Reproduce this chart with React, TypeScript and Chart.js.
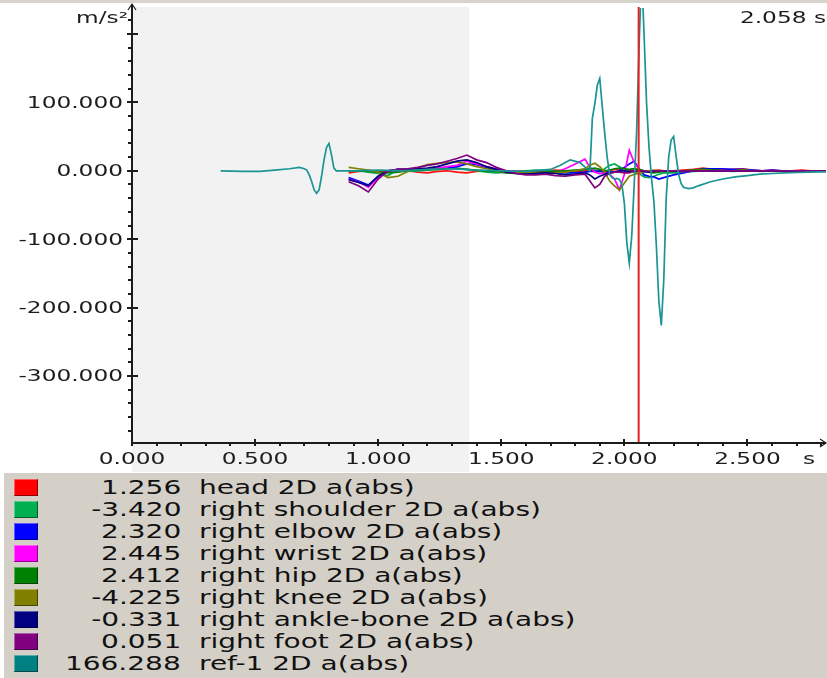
import React, { useEffect, useRef } from 'react';
import { Chart, registerables } from 'chart.js';

Chart.register(...registerables);

// ---------- axis / layout values ----------
const X_MIN = 0;
const X_MAX = 2.819;
const Y_MIN = -398;
const Y_MAX = 238;
const SHADE_END = 1.37;
const CURSOR_T = 2.058;
const CURSOR_LABEL = '2.058 s';
const Y_UNIT = 'm/s²';
const X_UNIT = 's';
const X_TICKS = [0, 0.5, 1.0, 1.5, 2.0, 2.5];
const X_TICK_LABELS = ['0.000', '0.500', '1.000', '1.500', '2.000', '2.500'];
const Y_TICKS = [200, 100, 0, -100, -200, -300];
const Y_TICK_LABELS = ['', '100.000', '0.000', '-100.000', '-200.000', '-300.000'];

// ---------- legend ----------
const SERIES_NAMES = [
  'head 2D a(abs)',
  'right shoulder 2D a(abs)',
  'right elbow 2D a(abs)',
  'right wrist 2D a(abs)',
  'right hip 2D a(abs)',
  'right knee 2D a(abs)',
  'right ankle-bone 2D a(abs)',
  'right foot 2D a(abs)',
  'ref-1 2D a(abs)',
];
const SERIES_COLORS = ['#ff0000', '#00b050', '#0000ff', '#ff00ff', '#008000', '#808000', '#000080', '#800080', '#008080'];
const LINE_COLORS = ['#ff1010', '#00b050', '#0000ff', '#ff00ff', '#008000', '#808000', '#000080', '#800080', '#1a9494'];
const CURSOR_VALUES = ['1.256', '-3.420', '2.320', '2.445', '2.412', '-4.225', '-0.331', '0.051', '166.288'];

// ---------- data ----------
const SMALL_T = [
  0.88, 0.92, 0.96, 1.00, 1.04, 1.08, 1.12, 1.16, 1.20, 1.24, 1.28, 1.32, 1.36, 1.40, 1.44, 1.48, 1.52, 1.56, 1.60, 1.64, 1.68, 1.72, 1.76, 1.80, 1.84,
  1.86, 1.88, 1.90, 1.92, 1.94, 1.96, 1.98, 2.00, 2.02, 2.04, 2.06, 2.08, 2.10, 2.12, 2.14, 2.16,
  2.20, 2.24, 2.28, 2.32, 2.36, 2.40, 2.44, 2.48, 2.52, 2.56, 2.60, 2.64, 2.68, 2.72, 2.76, 2.80, 2.84,
];
const HEAD = [
  -3, -1, 0, -1, -2, -1, 0, -2, -3, -1, 0, -2, -3, -1, 0, 1, 0, -1, 0, -1, 0, 1, 0, -1, 0,
  0, 1, 0, -1, 0, 2, 1, 0, 1, 1, 1, 0, -1, 0, 1, 0,
  0, 1, 2, 4, 2, 1, 2, 3, 1, 0, 1, 0, 0, 1, 0, 0, 0,
];
const SHOULDER = [
  0, 0, -2, -4, -7, 2, -1, 0, 1, 2, 3, 4, 2, 0, -2, -3, -2, -1, 0, 1, 0, -1, -2, 0, 2,
  4, 1, -2, 3, 8, 10, 6, 2, -1, -2, -4, -9, -10, -8, -5, -3,
  -3, -2, -1, 0, 1, 0, -1, 0, 0, -1, 0, 0, 0, 0, 0, 0, 0,
];
const ELBOW = [
  -10, -15, -21, -8, -1, 2, 1, 2, 3, 3, 4, 6, 10, 9, 5, 1, -2, -3, -2, -1, -2, -3, -3, -3, -2,
  -1, -1, 0, -3, -2, -2, 0, 5, 10, 14, 3, -6, -8, -9, -12, -10,
  -6, -3, 0, 3, 3, 3, 2, 2, 1, 0, 1, 0, 0, 0, 0, 0, 0,
];
const WRIST = [
  -12, -16, -24, -10, 0, 1, 2, 2, 3, 4, 6, 8, 14, 10, 6, 3, 0, -1, -2, -1, -2, -2, 3, 10, 17,
  5, -2, -4, -3, -5, -12, -28, -5, 30, 12, 2, -1, -2, -1, 0, 0,
  0, -1, 0, 1, 0, 0, 0, 0, 0, 0, 0, 0, 0, 0, 0, 0, 0,
];
const HIP = [
  0, 0, -1, -2, -3, -2, 0, 1, 2, 2, 3, 3, 2, 1, 0, -1, -3, -4, -3, -2, -2, -1, 0, 1, 2,
  3, 4, 2, 0, 1, 3, 4, 3, 2, 3, 2, 0, -2, -3, -2, -1,
  -1, 0, 1, 2, 1, 0, 0, 1, 0, 0, 0, 0, 0, 0, 0, 0, 0,
];
const KNEE = [
  5, 3, 1, -2, -10, -8, -1, 4, 9, 11, 12, 13, 10, 6, 3, 0, -2, -3, -2, -3, -4, -3, -2, 0, 3,
  8, 11, 6, -2, -15, -22, -28, -18, -8, -5, -4, -2, 0, 1, 0, 0,
  0, -1, 0, 1, 0, 0, 0, 1, 0, 0, 0, 0, 0, 0, 0, 0, 0,
];
const ANKLE = [
  -13, -17, -22, -8, 0, 2, 2, 3, 4, 6, 10, 14, 16, 12, 6, 2, -2, -4, -5, -4, -3, -4, -6, -5, -3,
  -6, -12, -8, -5, -3, -2, -1, 0, -1, -1, 0, -1, -2, -1, 0, 0,
  0, 0, 0, 0, 0, 0, 0, 0, 0, 0, 0, 0, 0, 0, 0, 0, 0,
];
const FOOT = [
  -16, -22, -31, -12, 0, 2, 3, 5, 8, 10, 14, 18, 23, 16, 12, 5, 0, -4, -6, -6, -5, -7, -8, -6, -5,
  -15, -25, -20, -8, -4, -2, -2, -3, -3, 0, 0, 0, -1, 0, 0, 0,
  0, 0, 0, 0, 0, 0, 0, 0, 0, 0, 0, 0, 0, 0, 0, 0, 0,
];
const REF_T = [
  0.36, 0.45, 0.52, 0.58, 0.64, 0.68,
  0.70, 0.71, 0.72, 0.73, 0.74, 0.75, 0.76, 0.77, 0.78, 0.79, 0.80, 0.81, 0.82, 0.83,
  0.90, 1.00, 1.10, 1.20, 1.30, 1.40, 1.50, 1.60, 1.70,
  1.74, 1.78, 1.82, 1.85,
  1.86, 1.87, 1.88, 1.89, 1.90, 1.91, 1.92, 1.93, 1.94, 1.95, 1.96, 1.97, 1.98, 1.99,
  2.00, 2.01, 2.02, 2.03, 2.04, 2.05, 2.06, 2.07, 2.08, 2.09, 2.10, 2.11, 2.12, 2.13,
  2.14, 2.15, 2.16, 2.17, 2.18, 2.19, 2.20, 2.21, 2.22, 2.23, 2.24,
  2.26, 2.28, 2.30,
  2.35, 2.40, 2.45, 2.50, 2.55, 2.60, 2.65, 2.70, 2.75, 2.80, 2.85,
];
const REF1 = [
  0, -1, -1, 1, 3, 5,
  3, 1, -6, -16, -28, -33, -28, -8, 16, 34, 40, 24, 4, 0,
  0, 1, 0, 2, 3, 1, 0, -1, 2,
  8, 16, 12, 2,
  0, 77, 98, 125, 135, 95, 55, 20, -5, -10, -12, -11, -13, -20,
  -48, -105, -135, -95, -20, 60, 185, 290, 200, 100, 35, -10, -45, -110,
  -190, -226, -160, -40, 20, 45, 50, 22, -5, -18, -24,
  -26, -25, -22,
  -16, -12, -9, -7, -5, -4, -3, -2.5, -2, -1.5, -1.5,
];

const SERIES_T = [SMALL_T, SMALL_T, SMALL_T, SMALL_T, SMALL_T, SMALL_T, SMALL_T, SMALL_T, REF_T];
const SERIES_V = [HEAD, SHOULDER, ELBOW, WRIST, HIP, KNEE, ANKLE, FOOT, REF1];

// ---------- geometry ----------
const W = 827;
const H = 678;
const CH = 472;
const FONT = '"DejaVu Sans", Verdana, sans-serif';
const AX_SIZE = 15;
const AX_SX = 1.55;
const LG_SIZE = 20;
const LG_SX = 1.4;

function drawText(ctx: CanvasRenderingContext2D, s: string, x: number, y: number, align: CanvasTextAlign, size: number, sx: number, color: string) {
  ctx.save();
  ctx.translate(x, y);
  ctx.scale(sx, 1);
  ctx.font = `${size}px ${FONT}`;
  ctx.fillStyle = color;
  ctx.textAlign = align;
  ctx.textBaseline = 'alphabetic';
  ctx.fillText(s, 0, 0);
  ctx.restore();
}

const decorPlugin = {
  id: 'decor',
  beforeDatasetsDraw(chart: any) {
    const { ctx, scales } = chart;
    const x = scales.x;
    ctx.save();
    ctx.fillStyle = '#d6d3cc';
    ctx.fillRect(0, 0, W, 3);
    const x0 = x.getPixelForValue(X_MIN);
    const x1 = x.getPixelForValue(SHADE_END);
    ctx.fillStyle = '#f2f2f2';
    ctx.fillRect(x0, 7, x1 - x0, CH - 7);
    ctx.restore();
  },
  afterDatasetsDraw(chart: any) {
    const { ctx, chartArea: a } = chart;
    const x = chart.scales.x;
    const y = chart.scales.y;
    ctx.save();
    // cursor
    const cx = x.getPixelForValue(CURSOR_T);
    ctx.strokeStyle = '#e02424';
    ctx.lineWidth = 2;
    ctx.beginPath();
    ctx.moveTo(cx, 7);
    ctx.lineTo(cx, a.bottom);
    ctx.stroke();

    const ox = Math.round(x.getPixelForValue(0));
    const oy = Math.round(a.bottom);
    const col = '#1c1c1c';
    ctx.fillStyle = col;
    // axis lines
    ctx.fillRect(ox - 1, 5, 2, oy - 4);
    ctx.fillRect(ox - 1, oy - 1, a.right - ox + 1, 2);
    // arrows
    ctx.strokeStyle = col;
    ctx.lineWidth = 1.2;
    ctx.beginPath();
    ctx.moveTo(ox - 4, 10);
    ctx.lineTo(ox, 4);
    ctx.lineTo(ox + 4, 10);
    ctx.moveTo(a.right - 6, oy - 4);
    ctx.lineTo(a.right, oy);
    ctx.lineTo(a.right - 6, oy + 4);
    ctx.stroke();

    // y ticks
    for (let v = -380; v <= 220; v += 20) {
      const py = Math.round(y.getPixelForValue(v));
      if (v % 100 === 0) ctx.fillRect(ox - 5, py - 1, 11, 2);
      else ctx.fillRect(ox - 4, py - 1, 4, 2);
    }
    // x ticks
    for (let i = 0; i <= 28; i++) {
      const px = Math.round(x.getPixelForValue(i / 10));
      if (i % 5 === 0) ctx.fillRect(px - 1, oy - 4, 2, 7);
      else ctx.fillRect(px - 1, oy + 1, 2, 2);
    }
    // labels
    Y_TICKS.forEach((v, i) => {
      const lbl = Y_TICK_LABELS[i];
      if (!lbl) return;
      const py = y.getPixelForValue(v);
      drawText(ctx, lbl, ox - 9, py + 5.5, 'right', AX_SIZE, AX_SX, col);
    });
    X_TICKS.forEach((v, i) => {
      const px = x.getPixelForValue(v);
      drawText(ctx, X_TICK_LABELS[i], px, 464, 'center', AX_SIZE, AX_SX, col);
    });
    drawText(ctx, X_UNIT, 809, 464, 'center', AX_SIZE, AX_SX, col);
    drawText(ctx, Y_UNIT, 128, 23, 'right', AX_SIZE, AX_SX, col);
    drawText(ctx, CURSOR_LABEL, 826, 23, 'right', AX_SIZE, AX_SX, col);
    ctx.restore();
  },
};

export default function App() {
  const ref = useRef<HTMLCanvasElement | null>(null);

  useEffect(() => {
    document.body.style.margin = '0';
    const canvas = ref.current;
    if (!canvas) return;
    const n = SERIES_NAMES.length;
    const datasets = SERIES_NAMES.map((name, i) => ({
      label: name,
      data: SERIES_T[i].map((t, k) => ({ x: t, y: SERIES_V[i][k] })),
      borderColor: LINE_COLORS[i],
      backgroundColor: LINE_COLORS[i],
      borderWidth: 1.7,
      pointRadius: 0,
      tension: 0,
      fill: false,
      order: n - 1 - i,
    }));
    const chart = new Chart(canvas, {
      type: 'line',
      data: { datasets },
      options: {
        animation: false,
        responsive: false,
        maintainAspectRatio: false,
        devicePixelRatio: 1,
        layout: { padding: { left: 132, right: 1, top: 8, bottom: CH - 443 } },
        scales: {
          x: { type: 'linear', min: X_MIN, max: X_MAX, display: false },
          y: { type: 'linear', min: Y_MIN, max: Y_MAX, display: false },
        },
        plugins: { legend: { display: false }, tooltip: { enabled: false } },
        events: [],
      },
      plugins: [decorPlugin],
    });
    return () => chart.destroy();
  }, []);

  const txtStyle: React.CSSProperties = {
    position: 'absolute',
    top: 0,
    height: 22,
    lineHeight: '22px',
    fontSize: LG_SIZE,
    fontFamily: FONT,
    whiteSpace: 'nowrap',
    color: '#111',
  };

  return (
    <div style={{ position: 'relative', width: W, height: H, background: '#fff', overflow: 'hidden' }}>
      <canvas ref={ref} width={W} height={CH} style={{ display: 'block', width: W, height: CH }} />
      <div style={{ position: 'absolute', left: 4, top: 473, width: W - 4, height: H - 473, background: '#d4d0c8' }}>
        {SERIES_NAMES.map((name, i) => (
          <div key={name} style={{ position: 'absolute', left: -4, top: 3 + 22 * i, width: W, height: 22 }}>
            <div
              style={{
                position: 'absolute',
                left: 14,
                top: 3,
                width: 24,
                height: 17,
                boxSizing: 'border-box',
                background: SERIES_COLORS[i],
                boxShadow: 'inset -1px -1px 0 rgba(0,0,0,0.45), inset 1px 1px 0 rgba(255,255,255,0.35)',
              }}
            />
            <div style={{ ...txtStyle, right: W - 181, transform: `scaleX(${LG_SX})`, transformOrigin: 'right center' }}>
              {CURSOR_VALUES[i]}
            </div>
            <div style={{ ...txtStyle, left: 199, transform: `scaleX(${LG_SX})`, transformOrigin: 'left center' }}>
              {name}
            </div>
          </div>
        ))}
      </div>
    </div>
  );
}
